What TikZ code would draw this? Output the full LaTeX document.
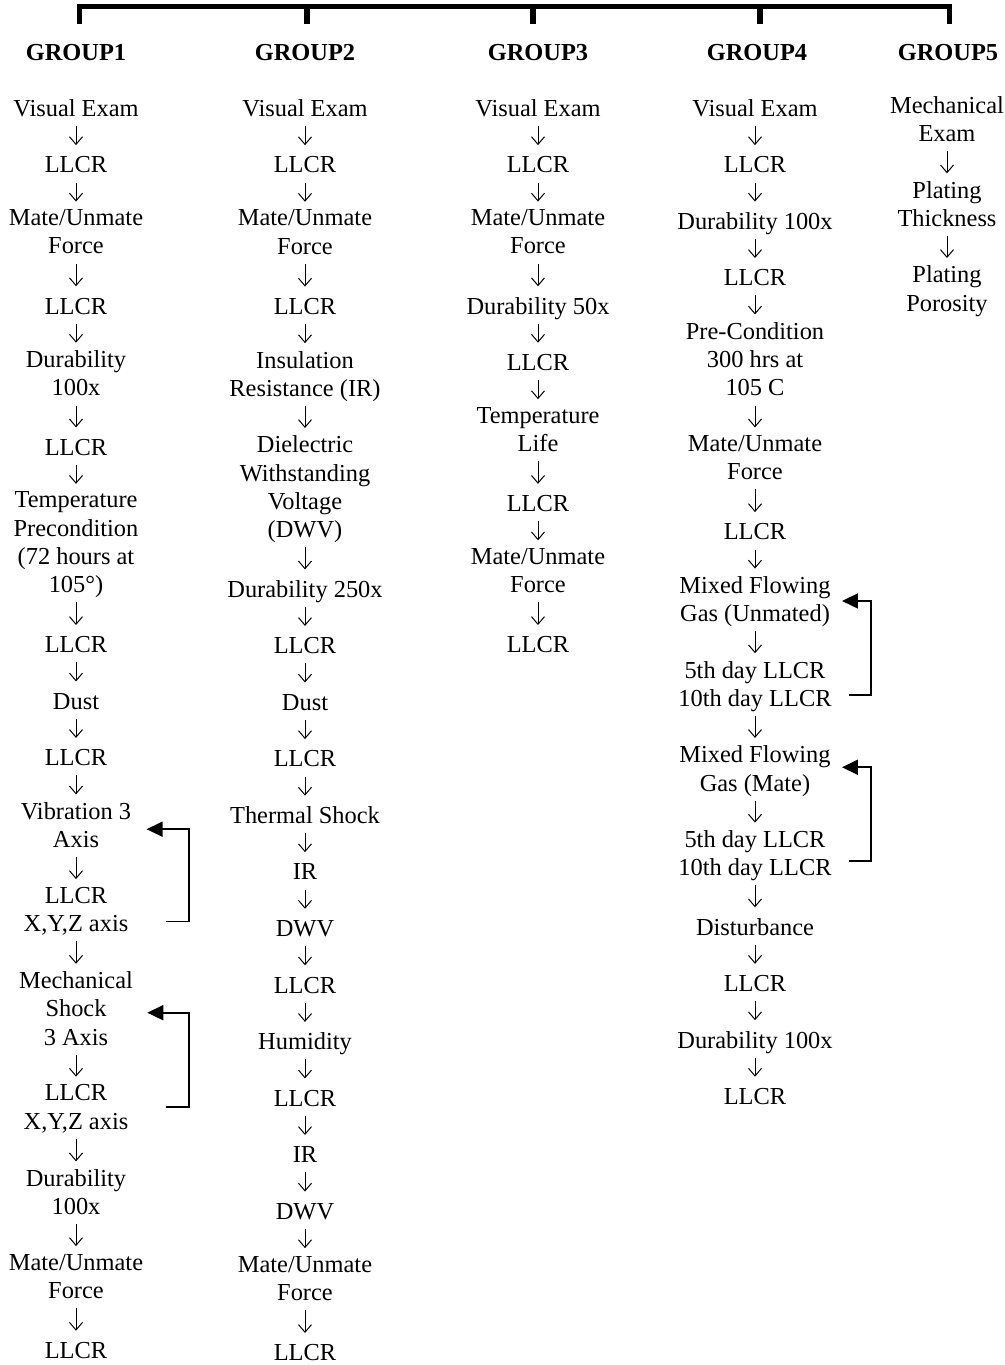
\documentclass[tikz,border=0pt]{standalone}
\usepackage{fontspec}
\setmainfont{Liberation Serif}
\usetikzlibrary{arrows.meta}
\newcommand\pitchA{28.23}
\newcommand\pitchB{28.28}
\newcommand\basey{116}
\begin{document}
\begin{tikzpicture}[x=0.5pt,y=-0.5pt,
  item/.style={anchor=north, yshift=9.88pt, inner sep=0pt, align=center,
    font=\fontsize{12.2pt}{14.115pt}\selectfont,
    execute at begin node=\strut, execute at end node=\strut},
  lastitem/.style={anchor=north, yshift=9.88pt, inner sep=0pt, align=center,
    font=\fontsize{12.2pt}{14.115pt}\selectfont,
    execute at begin node=\strut},
  hdr/.style={anchor=base, inner sep=0pt, font=\fontsize{12.2pt}{14.115pt}\selectfont\bfseries},
  flow/.style={-{Straight Barb[length=3.8pt,width=6.5pt]}, line width=0.5pt,
    shorten <=0.4pt, shorten >=3.8pt},
  loopback/.style={-{Triangle[length=8pt,width=7.5pt]}, line width=0.9pt},
  bar/.style={line width=2.65pt, line join=miter}]
\useasboundingbox (0,0) rectangle (1005,1365);

% bracket on top
\draw[bar] (79.5,24) -- (79.5,6.7) -- (949.3,6.7) -- (949.3,24);
\foreach \tx in {307,533,760} \draw[bar] (\tx,6.7) -- (\tx,24);

% headers
\node[hdr] (h1) at (76,61) {GROUP1};
\node[hdr] (h2) at (305,61) {GROUP2};
\node[hdr] (h3) at (538,61) {GROUP3};
\node[hdr] (h4) at (757,61) {GROUP4};
\node[hdr] (h5) at (948,61) {GROUP5};

% ---------- group 1 ----------
\node[item] (g1a) at (76,{\basey+\pitchA*0})  {Visual Exam};
\node[item] (g1b) at (76,{\basey+\pitchA*2})  {LLCR};
\node[item] (g1c) at (76,{\basey+\pitchA*4})  {Mate/Unmate\\Force};
\node[item] (g1d) at (76,{\basey+\pitchA*7})  {LLCR};
\node[item] (g1e) at (76,{\basey+\pitchA*9})  {Durability\\100x};
\node[item] (g1f) at (76,{\basey+\pitchA*12}) {LLCR};
\node[item] (g1g) at (76,{\basey+\pitchA*14}) {Temperature\\Precondition\\(72 hours at\\105°)};
\node[item] (g1h) at (76,{\basey+\pitchA*19}) {LLCR};
\node[item] (g1i) at (76,{\basey+\pitchA*21}) {Dust};
\node[item] (g1j) at (76,{\basey+\pitchA*23}) {LLCR};
\node[item] (g1k) at (76,{\basey+\pitchA*25}) {Vibration 3\\Axis};
\node[item] (g1l) at (76,{\basey+\pitchA*28}) {LLCR\\X,Y,Z axis};
\node[item] (g1m) at (76,{\basey+\pitchA*31}) {Mechanical\\Shock\\3 Axis};
\node[item] (g1n) at (76,{\basey+\pitchA*35}) {LLCR\\X,Y,Z axis};
\node[item] (g1o) at (76,{\basey+\pitchA*38}) {Durability\\100x};
\node[item] (g1p) at (76,{\basey+\pitchA*41}) {Mate/Unmate\\Force};
\node[lastitem] (g1q) at (76,{\basey+\pitchA*44}) {LLCR};
\foreach \p/\q in {g1a/g1b,g1b/g1c,g1c/g1d,g1d/g1e,g1e/g1f,g1f/g1g,g1g/g1h,g1h/g1i,
  g1i/g1j,g1j/g1k,g1k/g1l,g1l/g1m,g1m/g1n,g1n/g1o,g1o/g1p,g1p/g1q}
  \draw[flow] (\p.south) -- (\q.north);
\draw[loopback] ([shift={(37,8)}]g1l.east) -- ++(23,0) |- ([xshift=7.5pt]g1k.east);
\draw[loopback] ([shift={(37,-4.5)}]g1n.east) -- ++(23,0) |- ([xshift=7pt]g1m.east);

% ---------- group 2 ----------
\node[item] (g2a) at (305,{\basey+\pitchB*0})  {Visual Exam};
\node[item] (g2b) at (305,{\basey+\pitchB*2})  {LLCR};
\node[item] (g2c) at (305,{\basey+\pitchB*4})  {Mate/Unmate\\Force};
\node[item] (g2d) at (305,{\basey+\pitchB*7})  {LLCR};
\node[item] (g2e) at (305,{\basey+\pitchB*9})  {Insulation\\Resistance (IR)};
\node[item] (g2f) at (305,{\basey+\pitchB*12}) {Dielectric\\Withstanding\\Voltage\\(DWV)};
\node[item] (g2g) at (305,{\basey+\pitchB*17}) {Durability 250x};
\node[item] (g2h) at (305,{\basey+\pitchB*19}) {LLCR};
\node[item] (g2i) at (305,{\basey+\pitchB*21}) {Dust};
\node[item] (g2j) at (305,{\basey+\pitchB*23}) {LLCR};
\node[item] (g2k) at (305,{\basey+\pitchB*25}) {Thermal Shock};
\node[item] (g2l) at (305,{\basey+\pitchB*27}) {IR};
\node[item] (g2m) at (305,{\basey+\pitchB*29}) {DWV};
\node[item] (g2n) at (305,{\basey+\pitchB*31}) {LLCR};
\node[item] (g2o) at (305,{\basey+\pitchB*33}) {Humidity};
\node[item] (g2p) at (305,{\basey+\pitchB*35}) {LLCR};
\node[item] (g2q) at (305,{\basey+\pitchB*37}) {IR};
\node[item] (g2r) at (305,{\basey+\pitchB*39}) {DWV};
\node[item] (g2s) at (305,{\basey+\pitchB*41}) {Mate/Unmate\\Force};
\node[lastitem] (g2t) at (305,{\basey+\pitchB*44}) {LLCR};
\foreach \p/\q in {g2a/g2b,g2b/g2c,g2c/g2d,g2d/g2e,g2e/g2f,g2f/g2g,g2g/g2h,g2h/g2i,
  g2i/g2j,g2j/g2k,g2k/g2l,g2l/g2m,g2m/g2n,g2n/g2o,g2o/g2p,g2p/g2q,g2q/g2r,g2r/g2s,g2s/g2t}
  \draw[flow] (\p.south) -- (\q.north);

% ---------- group 3 ----------
\node[item] (g3a) at (538,{\basey+\pitchA*0})  {Visual Exam};
\node[item] (g3b) at (538,{\basey+\pitchA*2})  {LLCR};
\node[item] (g3c) at (538,{\basey+\pitchA*4})  {Mate/Unmate\\Force};
\node[item] (g3d) at (538,{\basey+\pitchA*7})  {Durability 50x};
\node[item] (g3e) at (538,{\basey+\pitchA*9})  {LLCR};
\node[item] (g3f) at (538,{\basey+\pitchA*11}) {Temperature\\Life};
\node[item] (g3g) at (538,{\basey+\pitchA*14}) {LLCR};
\node[item] (g3h) at (538,{\basey+\pitchA*16}) {Mate/Unmate\\Force};
\node[item] (g3i) at (538,{\basey+\pitchA*19}) {LLCR};
\foreach \p/\q in {g3a/g3b,g3b/g3c,g3c/g3d,g3d/g3e,g3e/g3f,g3f/g3g,g3g/g3h,g3h/g3i}
  \draw[flow] (\p.south) -- (\q.north);

% ---------- group 4 ----------
\node[item] (g4a) at (755,{\basey+\pitchA*0})  {Visual Exam};
\node[item] (g4b) at (755,{\basey+\pitchA*2})  {LLCR};
\node[item] (g4c) at (755,{\basey+\pitchA*4})  {Durability 100x};
\node[item] (g4d) at (755,{\basey+\pitchA*6})  {LLCR};
\node[item] (g4e) at (755,{\basey+\pitchA*8})  {Pre-Condition\\300 hrs at\\105 C};
\node[item] (g4f) at (755,{\basey+\pitchA*12}) {Mate/Unmate\\Force};
\node[item] (g4g) at (755,{\basey+\pitchA*15}) {LLCR};
\node[item] (g4h) at (755,{\basey+\pitchA*17}) {Mixed Flowing\\Gas (Unmated)};
\node[item] (g4i) at (755,{\basey+\pitchA*20}) {5th day LLCR\\10th day LLCR};
\node[item] (g4j) at (755,{\basey+\pitchA*23}) {Mixed Flowing\\Gas (Mate)};
\node[item] (g4k) at (755,{\basey+\pitchA*26}) {5th day LLCR\\10th day LLCR};
\node[item] (g4l) at (755,{\basey+\pitchA*29}) {Disturbance};
\node[item] (g4m) at (755,{\basey+\pitchA*31}) {LLCR};
\node[item] (g4n) at (755,{\basey+\pitchA*33}) {Durability 100x};
\node[item] (g4o) at (755,{\basey+\pitchA*35}) {LLCR};
\foreach \p/\q in {g4a/g4b,g4b/g4c,g4c/g4d,g4d/g4e,g4e/g4f,g4f/g4g,g4g/g4h,g4h/g4i,
  g4i/g4j,g4j/g4k,g4k/g4l,g4l/g4m,g4m/g4n,g4n/g4o}
  \draw[flow] (\p.south) -- (\q.north);
\draw[loopback] ([shift={(17,7)}]g4i.east) -- ++(22,0) |- ([shift={(11,-2.4)}]g4h.east);
\draw[loopback] ([shift={(17,3.5)}]g4k.east) -- ++(22,0) |- ([shift={(11,-5.5)}]g4j.east);

% ---------- group 5 ----------
\node[item] (g5a) at (947,{\basey+\pitchA*0}) {Mechanical\\Exam};
\node[item] (g5b) at (947,{\basey+\pitchA*3}) {Plating\\Thickness};
\node[item] (g5c) at (947,{\basey+\pitchA*6}) {Plating\\Porosity};
\foreach \p/\q in {g5a/g5b,g5b/g5c}
  \draw[flow] (\p.south) -- (\q.north);
\end{tikzpicture}
\end{document}
